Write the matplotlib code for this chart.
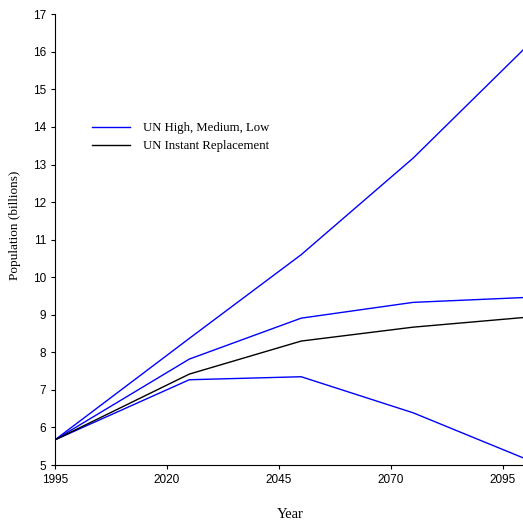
import matplotlib
matplotlib.use("Agg")
import matplotlib.pyplot as plt

years = [1995, 2025, 2050, 2075, 2100]
un_high = [5.67, 8.37, 10.60, 13.17, 16.10]
un_medium = [5.67, 7.82, 8.91, 9.33, 9.46]
un_low = [5.67, 7.27, 7.35, 6.39, 5.17]
un_instant = [5.67, 7.42, 8.30, 8.67, 8.93]

x_ticks = [1995, 2020, 2045, 2070, 2095]
y_ticks = list(range(5, 18))

serif = "Liberation Serif"
sans = "Liberation Sans"


def main():
    fig = plt.figure(figsize=(5.23, 5.20), dpi=100)
    ax = fig.add_axes([55 / 523, 1 - 465 / 520, 470 / 523, (465 - 14.3) / 520])

    ax.plot(years, un_high, color="#0000ff", lw=1.0, label="UN High, Medium, Low")
    ax.plot(years, un_medium, color="#0000ff", lw=1.0)
    ax.plot(years, un_low, color="#0000ff", lw=1.0)
    ax.plot(years, un_instant, color="black", lw=1.0, label="UN Instant Replacement")

    ax.set_xlim(1995, 2100)
    ax.set_ylim(5, 17)
    ax.set_xticks(x_ticks)
    ax.set_yticks(y_ticks)
    ax.spines["top"].set_visible(False)
    ax.spines["right"].set_visible(False)
    ax.tick_params(direction="out", length=3, width=0.8, labelsize=8.5)
    for lbl in ax.get_xticklabels() + ax.get_yticklabels():
        lbl.set_fontfamily(sans)

    ax.set_xlabel("Year", fontfamily=serif, fontsize=10.5, labelpad=16)
    ax.set_ylabel("Population (billions)", fontfamily=serif, fontsize=9.5)
    ax.yaxis.set_label_coords(-0.072, 0.532)

    ax.legend(loc="upper left", bbox_to_anchor=(0.079, 0.760), frameon=False,
              prop={"family": serif, "size": 9.2}, borderaxespad=0, borderpad=0,
              handlelength=3.0, handletextpad=1.0, labelspacing=0.45)

    fig.savefig("out.png", dpi=100)


if __name__ == "__main__":
    main()
